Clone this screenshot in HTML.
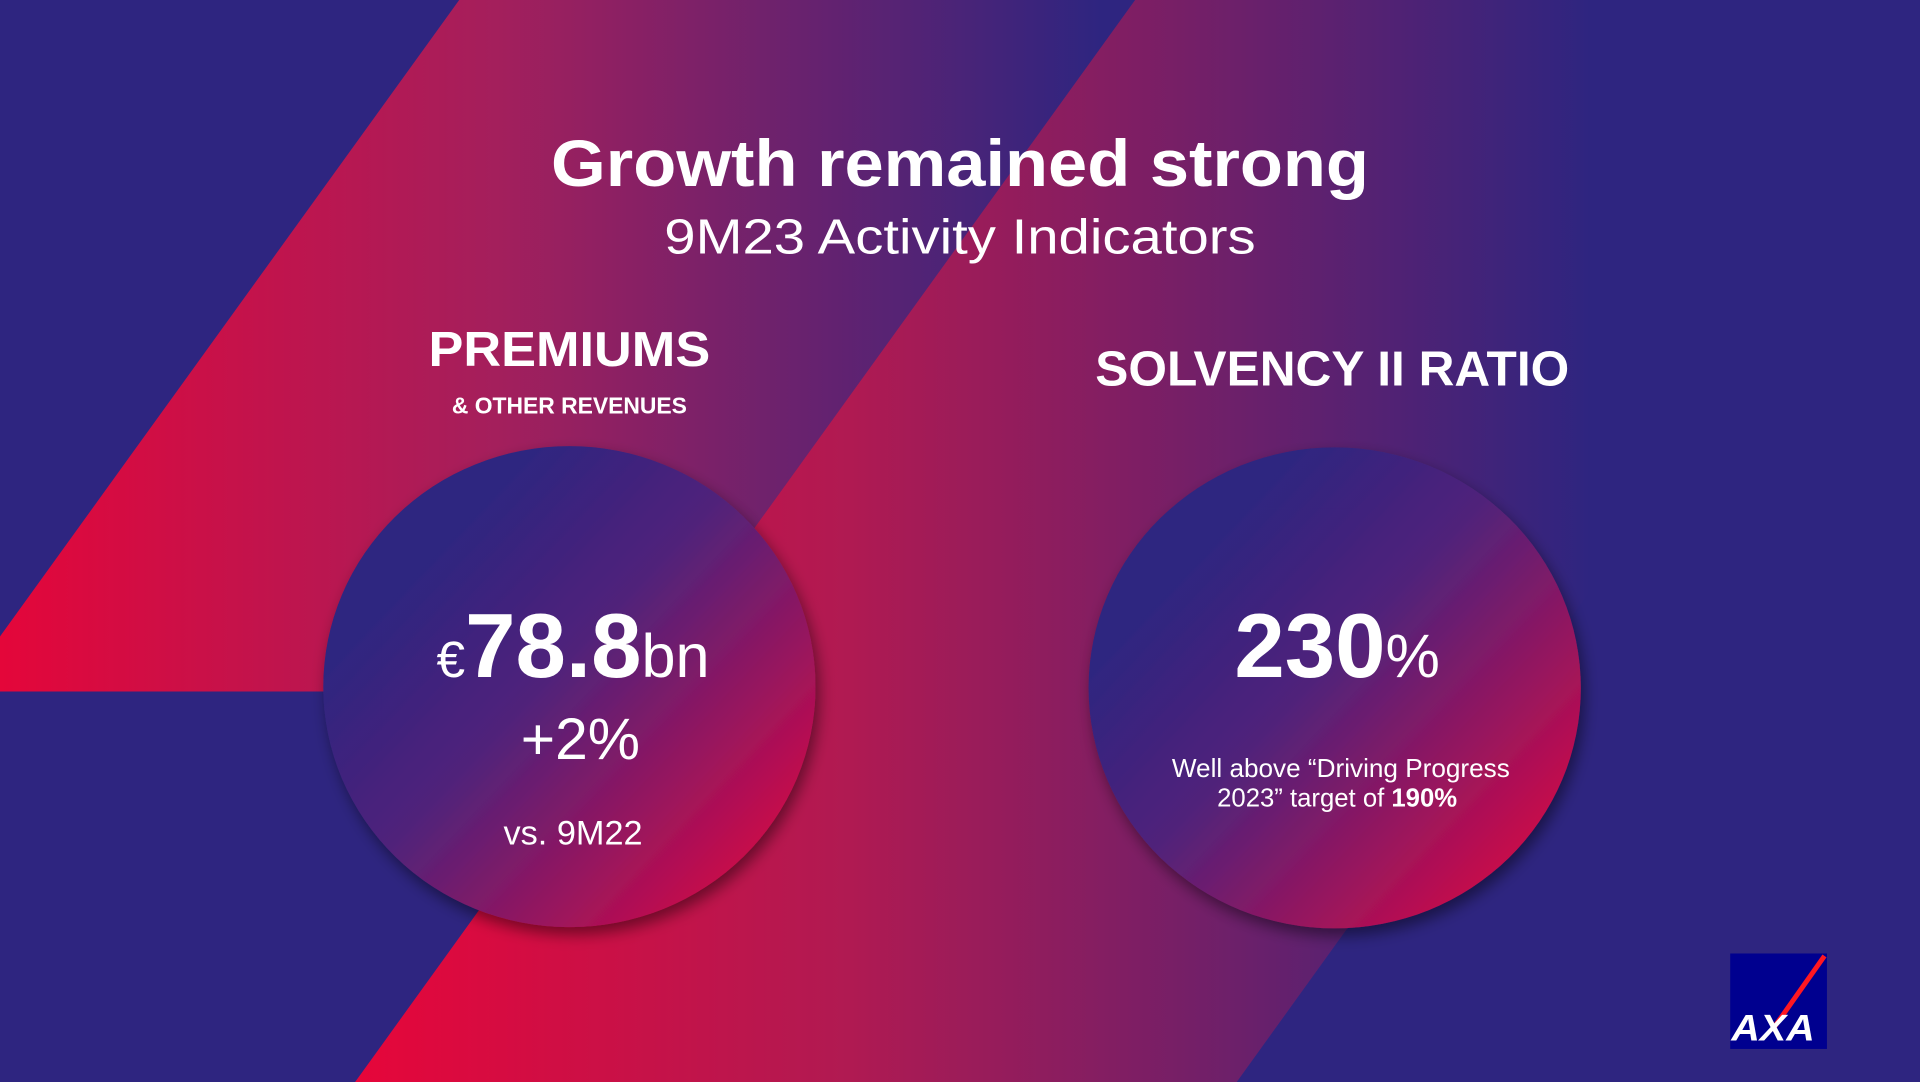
<!DOCTYPE html>
<html><head><meta charset="utf-8"><style>
html,body{margin:0;padding:0;width:1920px;height:1082px;overflow:hidden;background:#2e2580}
svg{display:block}
text{font-family:"Liberation Sans",sans-serif;fill:#fff}
</style></head><body>
<svg width="1920" height="1082" viewBox="0 0 1568 884" preserveAspectRatio="none">
<defs>
<linearGradient id="g1" x1="0" y1="0" x2="900" y2="0" gradientUnits="userSpaceOnUse">
<stop offset="0" stop-color="#e4063a"/><stop offset="0.45" stop-color="#a41f5c"/><stop offset="1" stop-color="#2e2580"/></linearGradient>
<linearGradient id="g2" x1="290" y1="0" x2="1300" y2="0" gradientUnits="userSpaceOnUse">
<stop offset="0" stop-color="#e6063a"/><stop offset="0.4" stop-color="#b01a52"/><stop offset="1" stop-color="#2e2580"/></linearGradient>
<linearGradient id="gc" x1="0.2" y1="0.25" x2="0.85" y2="0.85">
<stop offset="0" stop-color="#2e2580"/><stop offset="0.4" stop-color="#51237a"/><stop offset="1" stop-color="#c40c4c"/></linearGradient>
<filter id="sh" x="-20%" y="-20%" width="140%" height="140%"><feDropShadow dx="3" dy="6" stdDeviation="6" flood-color="#000" flood-opacity="0.45"/></filter>
</defs>
<rect width="1568" height="884" fill="#2e2580"/>
<polygon points="375,0 927,0 520,565 0,565 0,520" fill="url(#g1)"/>
<polygon points="927,0 1646,0 1010,884 290,884" fill="url(#g2)"/>
<ellipse cx="465" cy="561" rx="201" ry="196.5" fill="url(#gc)" filter="url(#sh)"/>
<ellipse cx="1090" cy="562" rx="201" ry="196.5" fill="url(#gc)" filter="url(#sh)"/>
<text x="784" y="152" text-anchor="middle" font-size="54" font-weight="bold" textLength="668" lengthAdjust="spacingAndGlyphs">Growth remained strong</text>
<text x="784" y="207" text-anchor="middle" font-size="40" textLength="483" lengthAdjust="spacingAndGlyphs">9M23 Activity Indicators</text>
<text x="465" y="299" text-anchor="middle" font-size="40" font-weight="bold" textLength="230" lengthAdjust="spacingAndGlyphs">PREMIUMS</text>
<text x="465" y="338" text-anchor="middle" font-size="19" font-weight="bold" textLength="192" lengthAdjust="spacingAndGlyphs">&amp; OTHER REVENUES</text>
<text x="1088" y="315" text-anchor="middle" font-size="40" font-weight="bold" textLength="387" lengthAdjust="spacingAndGlyphs">SOLVENCY II RATIO</text>
<text x="468" y="553" text-anchor="middle"><tspan font-size="42">€</tspan><tspan font-size="74" font-weight="bold">78.8</tspan><tspan font-size="50">bn</tspan></text>
<text x="474" y="620" text-anchor="middle" font-size="48">+2%</text>
<text x="468" y="690" text-anchor="middle" font-size="28">vs. 9M22</text>
<text x="1092" y="553" text-anchor="middle"><tspan font-size="74" font-weight="bold">230</tspan><tspan font-size="50">%</tspan></text>
<text x="1095" y="635" text-anchor="middle" font-size="21" textLength="276" lengthAdjust="spacingAndGlyphs">Well above “Driving Progress</text>
<text x="1092" y="659" text-anchor="middle" font-size="21">2023” target of <tspan font-weight="bold">190%</tspan></text>
<g>
<rect x="1413" y="779" width="79" height="78" fill="#00008f"/>
<line x1="1447" y1="842" x2="1490" y2="781" stroke="#ff1721" stroke-width="4"/>
<text x="1448" y="850" text-anchor="middle" font-size="30" font-weight="bold" font-style="italic" textLength="68" lengthAdjust="spacingAndGlyphs">AXA</text>
</g>
</svg>
</body></html>
